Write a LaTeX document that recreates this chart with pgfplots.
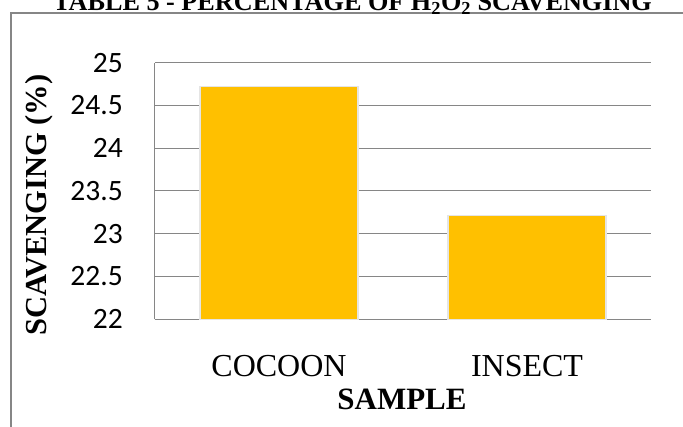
\documentclass[border=0pt]{standalone}
\usepackage{fontspec}
\setmainfont{Liberation Serif}
\newfontfamily\calibri{Carlito}
\usepackage{pgfplots}
\pgfplotsset{compat=1.18}
\definecolor{barc}{HTML}{FFC000}
\definecolor{gridc}{HTML}{868686}
\begin{document}
\begin{tikzpicture}
\useasboundingbox (-155pt,-107.7pt) rectangle (528pt,319.3pt);
\begin{axis}[
  name=ax, at={(0,0)}, anchor=south west,
  scale only axis, width=496pt, height=256.6pt,
  xmin=-0.5, xmax=1.5, ymin=22, ymax=25,
  axis x line=bottom, axis y line=left,
  axis line style={-, draw=gridc, line width=1pt},
  xtick=data, xticklabels={COCOON,INSECT},
  ytick={22,22.5,...,25},
  yticklabels={22,22.5,23,23.5,24,24.5,25},
  major tick length=0pt,
  tick style={draw=none},
  ymajorgrids, grid style={draw=gridc, line width=1pt},
  yticklabel style={font=\fontsize{29.5}{31}\selectfont\calibri, anchor=east, inner sep=0pt, xshift=-32pt},
  xticklabel style={font=\fontsize{32}{34}\selectfont, anchor=base, inner sep=0pt, yshift=-57.7pt},
  ybar, bar width=158pt,
]
\addplot[fill=barc, draw=black!10, line width=1.2pt] coordinates {(0,24.72) (1,23.21)};
\end{axis}
\draw[gridc, line width=2pt] (-144pt,-130pt) -- (-144pt,306.3pt) -- (540pt,306.3pt);
\node[font=\fontsize{26.2}{28}\selectfont\bfseries, anchor=base] at (197.5pt,308.8pt) {TABLE 5 - PERCENTAGE OF H\textsubscript{2}O\textsubscript{2} SCAVENGING};
\node[font=\fontsize{31}{33}\selectfont\bfseries, anchor=base] at (247pt,-90.7pt) {SAMPLE};
\node[font=\fontsize{30.5}{32}\selectfont\bfseries, rotate=90, anchor=base] at (-108pt,114.3pt) {SCAVENGING (\%)};
\end{tikzpicture}
\end{document}
